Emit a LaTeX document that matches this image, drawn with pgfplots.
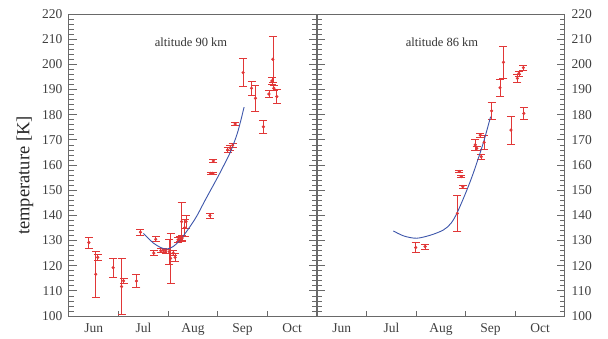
\documentclass[border=0pt]{standalone}
\usepackage{pgfplots}
\pgfplotsset{compat=1.18}
\usepackage{pgfplotstable}
\usepackage{fontspec}
\setmainfont{Liberation Serif}
\definecolor{errred}{RGB}{225,55,55}
\definecolor{fitblue}{RGB}{60,85,170}
\definecolor{framegray}{RGB}{105,105,105}

\pgfplotstableread{
x y e
0.40 129.2 2.2
0.54 116.6 9.0
0.58 123.3 1.2
0.89 119.2 3.7
1.06 111.7 11.2
1.10 114.0 1.0
1.36 113.9 2.6
1.44 133.3 1.1
1.71 125.0 1.0
1.75 130.5 1.0
1.85 125.9 0.8
1.90 126.1 0.8
1.95 125.8 0.8
2.02 125.6 5.0
2.05 122.9 9.9
2.10 125.0 1.0
2.14 123.3 1.4
2.20 130.3 1.0
2.24 130.6 1.0
2.28 131.0 1.0
2.27 137.5 7.8
2.33 135.1 3.5
2.36 137.5 2.5
2.84 139.9 1.0
2.86 156.7 0.5
2.90 156.7 0.5
2.91 161.6 0.5
3.20 166.0 1.0
3.25 166.8 1.0
3.30 167.8 0.8
3.35 176.3 0.5
3.51 196.7 5.5
3.68 190.5 2.8
3.76 186.5 5.0
3.92 175.2 2.5
4.03 188.2 1.5
4.09 193.4 1.5
4.11 202.0 9.2
4.13 190.5 1.0
4.19 187.2 2.7
}\dataninety

\pgfplotstableread{
x y e
1.99 127.2 2.0
2.18 127.6 1.0
2.83 140.8 7.2
2.87 157.4 0.5
2.91 155.4 0.5
2.94 151.4 0.5
3.19 168.0 2.0
3.22 166.6 0.8
3.29 171.9 0.8
3.31 163.3 1.0
3.37 169.0 2.7
3.52 181.5 3.3
3.69 190.7 3.5
3.76 200.8 6.4
3.91 173.9 5.6
4.04 194.4 1.5
4.07 196.4 1.0
4.16 198.7 1.0
4.17 180.5 2.5
}\dataeightysix

\pgfplotsset{
  panel/.style={
    scale only axis, width=248pt, height=302pt,
    xmin=0, xmax=5, ymin=100, ymax=220,
    xtick={0.5,1.5,2.5,3.5,4.5},
    xticklabels={Jun,Jul,Aug,Sep,Oct},
    minor xtick={1,2,3,4},
    xtick pos=lower,
    ytick={100,110,...,220},
    minor y tick num=4,
    ytick pos=both,
    tick align=inside,
    major tick length=8pt,
    minor tick length=5pt,
    x tick style={draw=none},
    minor x tick style={draw=framegray, line width=0.7pt},
    y tick style={draw=framegray, line width=0.7pt},
    axis line style={draw=framegray, line width=1pt},
    tick label style={font=\fontsize{13.5}{15}\selectfont, text=black!75},
    /pgf/number format/assume math mode=true,
    xticklabel style={yshift=-4pt},
    clip=false,
  },
  errpts/.style={
    only marks, mark=*, mark size=1.4pt, color=errred,
    error bars/.cd, y dir=both, y explicit,
    error bar style={line width=0.7pt, draw=errred},
    error mark options={draw=errred, mark size=4pt, line width=0.7pt, rotate=90},
  },
}

\begin{document}
\begin{tikzpicture}
\useasboundingbox (-69pt,-22pt) rectangle (539pt,316pt);
\begin{axis}[panel, at={(0pt,0pt)}, anchor=south west, yticklabel pos=left,
  yticklabel style={xshift=-3pt}]
  \addplot[errpts] table[x=x, y=y, y error=e] {\dataninety};
  \addplot[fitblue, line width=0.9pt, smooth] coordinates {
    (1.50,132.8) (1.70,129.0) (1.85,127.2) (1.97,126.6) (2.10,127.6)
    (2.24,130.2) (2.40,134.4) (2.57,139.5) (2.75,146.2) (2.98,154.5)
    (3.12,159.8) (3.25,165.0) (3.40,173.0) (3.53,183.0)};
  \node[font=\fontsize{12.5}{14}\selectfont, text=black!80] at (axis cs:2.46,208.6) {altitude 90 km};
  \node[rotate=90, font=\fontsize{18.5}{20}\selectfont, text=black!85] at (rel axis cs:0,0.465) [yshift=44pt] {temperature [K]};
\end{axis}
\begin{axis}[panel, at={(248pt,0pt)}, anchor=south west, yticklabel pos=right,
  yticklabel style={xshift=3pt}]
  \addplot[errpts] table[x=x, y=y, y error=e] {\dataeightysix};
  \addplot[fitblue, line width=0.9pt, smooth] coordinates {
    (1.54,133.8) (1.75,131.8) (2.01,130.9) (2.30,132.2) (2.55,134.2)
    (2.70,136.8) (2.82,140.8) (3.00,149.0) (3.15,156.7) (3.35,168.6)
    (3.50,179.2)};
  \node[font=\fontsize{12.5}{14}\selectfont, text=black!80] at (axis cs:2.52,208.6) {altitude 86 km};
\end{axis}
\end{tikzpicture}
\end{document}
